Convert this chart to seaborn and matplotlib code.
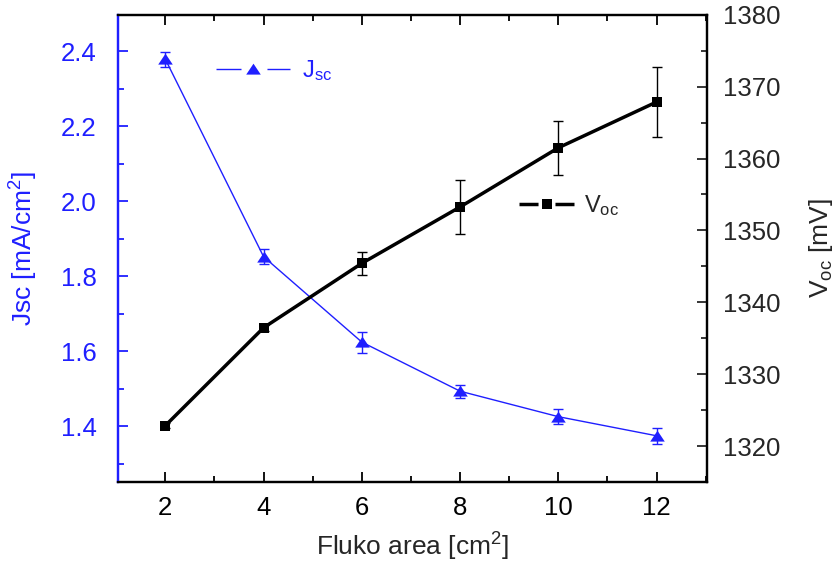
import numpy as np
import pandas as pd
import matplotlib
matplotlib.use("Agg")
import matplotlib.pyplot as plt
import seaborn as sns
from matplotlib.lines import Line2D
from matplotlib.ticker import MultipleLocator, FormatStrFormatter

# data
area = [2, 4, 6, 8, 10, 12]
jsc = [2.379, 1.852, 1.624, 1.493, 1.425, 1.374]
jsc_err = [0.020, 0.020, 0.028, 0.017, 0.020, 0.021]
voc = [1322.85, 1336.47, 1345.43, 1353.27, 1361.5, 1367.87]
voc_err = [0.3, 0.4, 1.6, 3.8, 3.75, 4.9]

df = pd.DataFrame({"area": area, "jsc": jsc, "voc": voc})

sns.set_theme(style="ticks")
plt.rcParams['font.family'] = ['Liberation Sans', 'DejaVu Sans']
plt.rcParams['mathtext.fontset'] = 'custom'
plt.rcParams['mathtext.rm'] = 'Liberation Sans'
plt.rcParams['mathtext.it'] = 'Liberation Sans'
plt.rcParams['lines.scale_dashes'] = False

blue = '#1f1fff'
tri = [(-1, -0.7), (1, -0.7), (0, 0.8)]

fig, ax = plt.subplots(figsize=(8.34, 5.67), dpi=100)
fig.subplots_adjust(left=0.1411, right=0.8474, top=0.974, bottom=0.1504)
ax2 = ax.twinx()

# Jsc on left axis
sns.lineplot(data=df, x="area", y="jsc", ax=ax, color=blue, lw=1.0,
             marker=tri, markersize=10.5, markeredgewidth=0, legend=False, zorder=3)
ax.errorbar(area, jsc, yerr=jsc_err, fmt='none', ecolor=blue, elinewidth=1,
            capsize=3.4, zorder=1)

# Voc on right axis
sns.lineplot(data=df, x="area", y="voc", ax=ax2, color='black', lw=2.5,
             marker='s', markersize=7.5, markeredgewidth=0, legend=False, zorder=3)
ax2.errorbar(area, voc, yerr=voc_err, fmt='none', ecolor='black', elinewidth=1,
             capsize=3.3, zorder=1)

ax.set_xlim(1.03, 13.02)
ax.set_ylim(1.2514, 2.4977)
ax2.set_ylim(1315.05, 1380)

ax.xaxis.set_major_locator(MultipleLocator(2))
ax.xaxis.set_minor_locator(MultipleLocator(1))
ax.yaxis.set_major_locator(MultipleLocator(0.2))
ax.yaxis.set_minor_locator(MultipleLocator(0.1))
ax2.yaxis.set_major_locator(MultipleLocator(10))
ax2.yaxis.set_minor_locator(MultipleLocator(5))
ax.yaxis.set_major_formatter(FormatStrFormatter('%.1f'))

ax.tick_params(axis='x', which='both', direction='in', top=True, colors='black', labelsize=18.5)
ax.tick_params(axis='x', which='major', length=7, width=1.3, pad=10)
ax.tick_params(axis='x', which='minor', length=4, width=1.3)
ax.tick_params(axis='y', which='both', direction='in', colors=blue, labelsize=18.5)
ax.tick_params(axis='y', which='major', length=7, width=1.3, pad=15)
ax.tick_params(axis='y', which='minor', length=4, width=1.3)
ax2.tick_params(axis='y', which='both', direction='in', labelsize=18.5)
ax2.tick_params(axis='y', which='major', length=7, width=1.3, pad=11.5)
ax2.tick_params(axis='y', which='minor', length=4, width=1.3)

for a in (ax, ax2):
    for s in a.spines.values():
        s.set_visible(True)
        s.set_linewidth(1.6)
        s.set_color('black')
ax.spines['left'].set_color(blue)
ax2.spines['left'].set_color(blue)

ax.set_xlabel("Fluko area [cm$^2$]", fontsize=19)
ax.set_ylabel("Jsc [mA/cm$^2$]", fontsize=19, color=blue)
ax2.set_ylabel("V$_{oc}$ [mV]", fontsize=19)
ax.xaxis.set_label_coords(0.5, -0.105)
ax.yaxis.set_label_coords(-0.132, 0.5)
ax2.yaxis.set_label_coords(1.1698, 0.5)

# legend handles with gaps around the marker
h_jsc = Line2D([], [], color=blue, lw=1.0, marker=tri, markersize=10.5,
               markeredgewidth=0, dashes=(18, 18.7))
h_voc = Line2D([], [], color='black', lw=2.5, marker='s', markersize=7.5,
               markeredgewidth=0, dashes=(13.7, 12.2))

leg1 = ax2.legend([h_jsc], ["J$_{sc}$"], loc='center left',
                  bbox_to_anchor=(0.1669, 0.880), frameon=False, fontsize=17,
                  handlelength=3.15, handletextpad=0.5, borderpad=0, borderaxespad=0,
                  labelcolor=blue)
ax2.add_artist(leg1)
ax2.legend([h_voc], ["V$_{oc}$"], loc='center left',
           bbox_to_anchor=(0.6813, 0.591), frameon=False, fontsize=17,
           handlelength=2.37, handletextpad=0.38, borderpad=0, borderaxespad=0)

fig.savefig("out.png", dpi=100)
